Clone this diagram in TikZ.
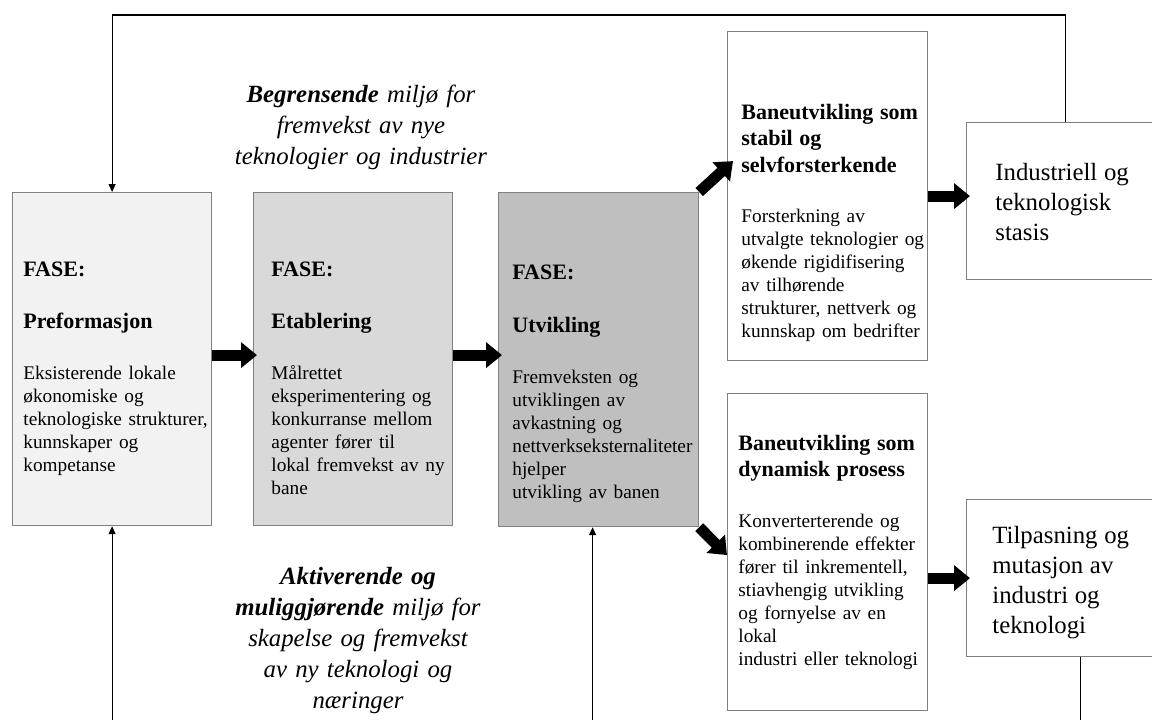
\documentclass[tikz,border=0pt]{standalone}
\usepackage{fontspec}
\setmainfont{Liberation Serif}
\usetikzlibrary{arrows.meta,positioning,calc}
\definecolor{edge}{RGB}{128,128,128}
\definecolor{fillA}{RGB}{242,242,242}
\definecolor{fillB}{RGB}{217,217,217}
\definecolor{fillC}{RGB}{191,191,191}
\newcommand{\hdfont}{\fontsize{11}{13.3}\selectfont\bfseries}
\newcommand{\bdfont}{\normalfont\fontsize{9.65}{11.5}\selectfont}
\newcommand{\bigfont}{\fontsize{12.4}{15}\selectfont}
\newcommand{\lblfont}{\fontsize{12.4}{15.5}\selectfont\itshape}
\setlength{\parindent}{0pt}
\setlength{\parskip}{0pt}
\tikzset{
  box/.style={rectangle,draw=edge,line width=0.6pt,anchor=north west,inner sep=0pt},
  txt/.style={anchor=base west,inner sep=0pt,text width=100pt,align=left},
  lbl/.style={anchor=base,inner sep=0pt,text width=140pt,align=center,font=\lblfont},
  blk/.style={-{Triangle[width=12.5pt,length=8pt]},line width=5.5pt},
  fb/.style={-{Triangle[width=3.5pt,length=4pt]},line width=0.6pt},
  fbl/.style={line width=0.6pt},
}
\begin{document}
\begin{tikzpicture}[x=0.5pt,y=-0.5pt]
% path development: three phases, two outcomes, feedback lines
\useasboundingbox (0,0) rectangle (1152,719);
\clip (0,0) rectangle (1152,719);
\coordinate (top) at (0,15);
\coordinate (bot) at (0,725);
\node[box,fill=fillA,minimum width=99.5pt,minimum height=166.5pt] (b1) at (12,192) {};
\node[box,fill=fillB,minimum width=99.5pt,minimum height=166.5pt] (b2) at (253,192) {};
\node[box,fill=fillC,minimum width=100pt,minimum height=167pt] (b3) at (498,192) {};
\node[box,fill=white,minimum width=100pt,minimum height=164.5pt] (b4) at (727,31) {};
\node[box,fill=white,minimum width=99pt,minimum height=78.5pt] (b5) at (966,122) {};
\node[box,fill=white,minimum width=100pt,minimum height=158.5pt] (b6) at (727,393) {};
\node[box,fill=white,minimum width=114pt,minimum height=78.5pt] (b7) at (966,499) {};

\node[txt] (t1) at ($(b1.north west)+(11,84)$)
  {\hdfont FASE:\\[12.7pt]Preformasjon\par\vspace{14pt}%
   \bdfont Eksisterende lokale\\økonomiske og\\teknologiske strukturer,\\kunnskaper og\\kompetanse\par};
\node[txt] (t2) at ($(b2.north west)+(18,84)$)
  {\hdfont FASE:\\[12.7pt]Etablering\par\vspace{14pt}%
   \bdfont Målrettet\\eksperimentering og\\konkurranse mellom\\agenter fører til\\lokal fremvekst av ny\\bane\par};
\node[txt] (t3) at ($(b3.north west)+(14,87)$)
  {\hdfont FASE:\\[13.2pt]Utvikling\par\vspace{14pt}%
   \bdfont Fremveksten og\\utviklingen av\\avkastning og\\nettverkseksternaliteter\\hjelper\\utvikling av banen\par};
\node[txt] (t4) at ($(b4.north west)+(14,88)$)
  {\hdfont Baneutvikling som\\stabil og\\selvforsterkende\par\vspace{13.5pt}%
   \bdfont Forsterkning av\\utvalgte teknologier og\\økende rigidifisering\\av tilhørende\\strukturer, nettverk og\\kunnskap om bedrifter\par};
\node[txt] (t5) at ($(b5.north west)+(29,58)$)
  {\bigfont Industriell og\\teknologisk\\stasis\par};
\node[txt] (t6) at ($(b6.north west)+(11,57)$)
  {\hdfont Baneutvikling som\\dynamisk prosess\par\vspace{14pt}%
   \bdfont Konverterterende og\\kombinerende effekter\\fører til inkrementell,\\stiavhengig utvikling\\og fornyelse av en\\lokal\\industri eller teknologi\par};
\node[txt] (t7) at ($(b7.north west)+(26,44)$)
  {\bigfont Tilpasning og\\mutasjon av\\industri og\\teknologi\par};

\node[lbl] (lim) at (361,102)
  {\textbf{Begrensende} miljø for\\fremvekst av nye\\teknologier og industrier\par};
\node[lbl] (akt) at (358,584)
  {\textbf{Aktiverende og}\\\textbf{muliggjørende} miljø for\\skapelse og fremvekst\\av ny teknologi og\\næringer\par};

\draw[blk] ($(b1.east)+(0,-4)$) -- ($(b1.east -| b2.west)+(4,-4)$);
\draw[blk] ($(b2.east)+(0,-4)$) -- ($(b2.east -| b3.west)+(4,-4)$);
\draw[blk] (b3.north east) -- ($(b4.west)+(6,-35)$);
\draw[blk] (b3.south east) -- ($(b6.west)+(0,3)$);
\draw[blk] (b4.east) -- ($(b4.east -| b5.west)+(4,0)$);
\draw[blk] (b6.east |- b7.west) -- ($(b7.west)+(4,0)$);

\draw[fb] (b5.north) |- (top -| b1.north) -- (b1.north);
\draw[fb] (b1.south |- bot) -- (b1.south);
\coordinate (b3in) at ($(b3.south)+(-6,0)$);
\draw[fb] (b3in |- bot) -- (b3in);
\draw[fbl] (b7.south) -- (b7.south |- bot);
\end{tikzpicture}
\end{document}
